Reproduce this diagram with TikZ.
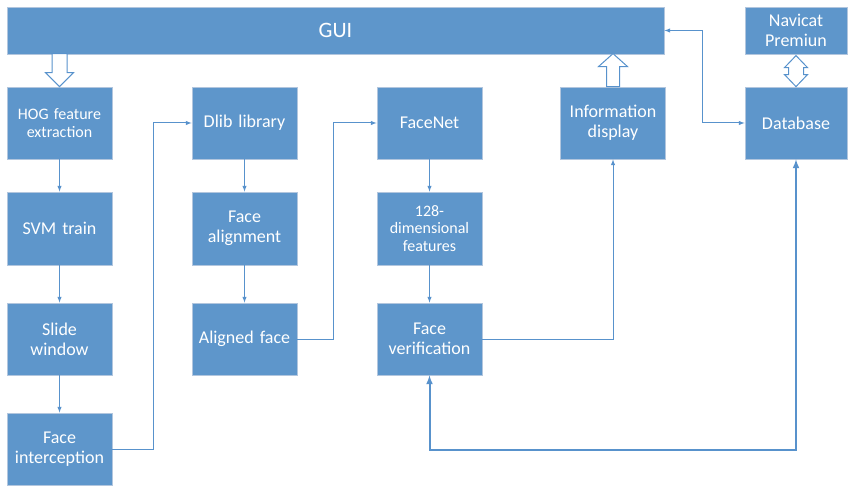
\documentclass[tikz,border=0pt]{standalone}
\usepackage{fontspec}
\setmainfont{Carlito}
\usetikzlibrary{arrows, positioning}

\definecolor{boxblue}{RGB}{94,150,203}
\definecolor{edgeblue}{RGB}{178,198,222}
\definecolor{lineblue}{RGB}{88,146,204}

\begin{document}
\begin{tikzpicture}[x=1pt, y=-1pt, >=latex,
  main/.style = {draw=edgeblue, line width=0.8pt, fill=boxblue, text=white, align=center,
                 minimum width=105pt, minimum height=72pt, text width=98pt, inner sep=0pt,
                 font=\fontsize{18}{20}\selectfont},
  small/.style = {font=\fontsize{16}{17.5}\selectfont},
  link/.style = {draw=lineblue, line width=1pt},
  hollow/.style = {draw=lineblue, fill=white, line width=1pt, line join=miter}]
\useasboundingbox (0,0) rectangle (848,486);
\node[main, minimum width=657pt, minimum height=47pt, text width=600pt, font=\fontsize{22}{24}\selectfont] (gui) at (335.5,30.5) {GUI};
\node[main, minimum width=102pt, minimum height=47pt] (nav) at (796,30.5) {Navicat\\Premiun};
\node[main, small] (hog) at (59.5,123) {HOG feature\\extraction};
\node[main, minimum height=73pt] (svm) at (59.5,228.5) {SVM train};
\node[main] (slide) at (59.5,339) {Slide\\window};
\node[main] (cut) at (59.5,449) {Face\\interception};
\node[main] (dlib) at (244.5,123) {Dlib library};
\node[main, minimum height=73pt] (align) at (244.5,228.5) {Face\\alignment};
\node[main] (aligned) at (244.5,339) {Aligned face};
\node[main] (facenet) at (429.5,123) {FaceNet};
\node[main, small, minimum height=73pt] (feat) at (429.5,228.5) {128-\\dimensional\\features};
\node[main] (verify) at (429.5,339) {Face\\verification};
\node[main] (info) at (613,123) {Information\\display};
\node[main, minimum width=102pt] (db) at (796,123) {Database};
% column flows
\draw[link, ->] (hog) -- (svm);
\draw[link, ->] (svm) -- (slide);
\draw[link, ->] (slide) -- (cut);
\draw[link, ->] (dlib) -- (align);
\draw[link, ->] (align) -- (aligned);
\draw[link, ->] (facenet) -- (feat);
\draw[link, ->] (feat) -- (verify);
\draw[link, ->] (cut.east) -- ++(41,0) |- (dlib.west);
\draw[link, ->] (aligned.east) -- ++(36,0) |- (facenet.west);
\draw[link, ->] (verify.east) -| (info.south);
\draw[link, <->] (gui.east) -- ++(38,0) |- (db.west);
\draw[link, line width=2pt, <->] (verify.south) -- ++(0,75) -| (db.south);
% block arrows
\draw[hollow] (hog.north) -- ++(-14,-14) -- ++(6.5,0) -- ++(0,-19) -- ++(15,0) -- ++(0,19) -- ++(6.5,0) -- cycle;
\draw[hollow] (info.north) -- ++(-6.5,0) -- ++(0,-20) -- ++(-8,0) -- ++(14.5,-13) -- ++(14.5,13) -- ++(-8,0) -- ++(0,20) -- cycle;
\draw[hollow] (db.north) -- ++(-11.5,-12) -- ++(4,0) -- ++(0,-7) -- ++(-4,0) -- ++(11.5,-12) -- ++(11.5,12) -- ++(-4,0) -- ++(0,7) -- ++(4,0) -- cycle;
\end{tikzpicture}
\end{document}
